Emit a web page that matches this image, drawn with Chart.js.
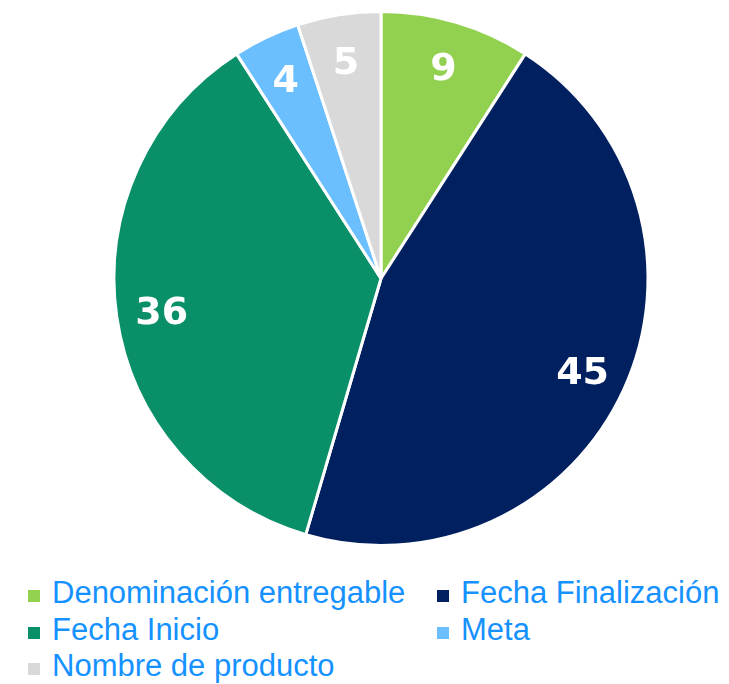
<!DOCTYPE html>
<html>
<head>
<meta charset="utf-8">
<script src="https://cdn.jsdelivr.net/npm/chart.js@4/dist/chart.umd.min.js"></script>
<style>
  body { margin: 0; background: #fff; }
  #wrap { position: relative; width: 729px; height: 684px; }
  #chartBox { position: absolute; left: 0; top: 0; width: 729px; height: 556px; }
  #legend {
    position: absolute; left: 28px; top: 575px;
    display: grid; grid-template-columns: 409px auto;
    font: 31px "Liberation Sans", Arial, sans-serif; line-height: 36.5px;
    color: #1592ff; white-space: nowrap;
  }
  #legend span.box {
    display: inline-block; width: 12px; height: 12px; margin-right: 12px;
    vertical-align: 1px;
  }
</style>
</head>
<body>
<div id="wrap">
  <div id="chartBox"><canvas id="pieChart"></canvas></div>
  <div id="legend"></div>
</div>
<script>
const labels = ['Denominación entregable', 'Fecha Finalización', 'Fecha Inicio', 'Meta', 'Nombre de producto'];
const values = [9, 45, 36, 4, 5];
const colors = ['#92d050', '#002060', '#0a9068', '#6bbfff', '#d9d9d9'];

// white numbers inside each slice
const sliceLabels = {
  id: 'sliceLabels',
  afterDatasetsDraw(chart) {
    const ctx = chart.ctx;
    const meta = chart.getDatasetMeta(0);
    const size = 38;
    ctx.save();
    ctx.fillStyle = '#fff';
    ctx.font = 'bold ' + size + 'px "DejaVu Sans", sans-serif';
    ctx.textAlign = 'center';
    ctx.textBaseline = 'alphabetic';
    meta.data.forEach((arc, i) => {
      const mid = (arc.startAngle + arc.endAngle) / 2;
      const r = arc.outerRadius * 0.83;
      const x = arc.x + Math.cos(mid) * r;
      const y = arc.y + Math.sin(mid) * r + size * 0.365;
      ctx.fillText(String(values[i]), x, y);
    });
    ctx.restore();
  }
};

new Chart(document.getElementById('pieChart').getContext('2d'), {
  type: 'pie',
  data: {
    labels: labels,
    datasets: [{
      data: values,
      backgroundColor: colors,
      borderColor: '#ffffff',
      borderWidth: 3,
      hoverOffset: 0
    }]
  },
  options: {
    responsive: true,
    maintainAspectRatio: false,
    animation: false,
    layout: { padding: { left: 33, right: 0, top: 10, bottom: 9 } },
    plugins: {
      legend: { display: false },
      tooltip: { enabled: false }
    }
  },
  plugins: [sliceLabels]
});

// legend in two columns, like the original
const legend = document.getElementById('legend');
labels.forEach((name, i) => {
  const item = document.createElement('div');
  const box = document.createElement('span');
  box.className = 'box';
  box.style.background = colors[i];
  item.appendChild(box);
  item.appendChild(document.createTextNode(name));
  legend.appendChild(item);
});
</script>
</body>
</html>
